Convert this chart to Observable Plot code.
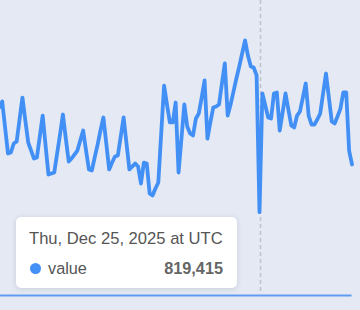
<!DOCTYPE html>
<html>
<head>
<meta charset="utf-8">
<script src="https://cdn.jsdelivr.net/npm/d3@7"></script>
<script src="https://cdn.jsdelivr.net/npm/@observablehq/plot@0.6"></script>
<style>
  html, body { margin: 0; padding: 0; background: #e4e9f4; overflow: hidden; }
  #wrap { position: relative; width: 360px; height: 310px; }
  #tip {
    position: absolute; left: 16px; top: 217px; width: 221px; height: 71px;
    background: #fff; border-radius: 5px;
    box-shadow: 0 1px 5px rgba(60,70,90,0.18);
    font-family: "Liberation Sans", Arial, Helvetica, sans-serif; font-size: 16px; line-height: 16px;
    color: #555;
  }
  #tip .title { position: absolute; left: 13px; top: 14.3px; white-space: nowrap; font-size: 16.6px; }
  #tip .dot { position: absolute; left: 13.5px; top: 45.5px; width: 11px; height: 11px; border-radius: 50%; }
  #tip .name { position: absolute; left: 32px; top: 42.5px; font-size: 16.3px; }
  #tip .val { position: absolute; right: 14px; top: 42.5px; font-weight: bold; color: #666; font-size: 16.3px; }
</style>
</head>
<body>
<div id="wrap"></div>
<script>
// Daily series, first day 2025-09-26
const startDate = [2025, 8, 26];
const values = [
  1850000, 1907000, 1652000, 1396000, 1406000, 1494000, 1514000, 1730000, 1946000, 1720000,
  1504000, 1425000, 1347000, 1357000, 1563000, 1769000, 1475000, 1189000, 1199000, 1209000,
  1396000, 1583000, 1779000, 1543000, 1317000, 1347000, 1386000, 1425000, 1524000, 1622000,
  1425000, 1239000, 1229000, 1357000, 1484000, 1622000, 1750000, 1494000, 1239000, 1307000,
  1366000, 1376000, 1563000, 1750000, 1494000, 1239000, 1268000, 1298000, 1268000, 1101000,
  1307000, 1298000, 1003000, 983000, 1052000, 1111000, 1593000, 2064000, 1878000, 1701000,
  1701000, 1897000, 1209000, 1543000, 1878000, 1661000, 1593000, 1573000, 1740000, 1789000,
  1946000, 2114000, 1543000, 1701000, 1848000, 1858000, 1878000, 2084000, 2281000, 1769000,
  1878000, 2005000, 2133000, 2251000, 2379000, 2507000, 2359000, 2251000, 2241000, 2163000,
  819415, 1986000, 1868000, 1750000, 1740000, 1986000, 1996000, 1622000, 1800000, 1986000,
  1828000, 1671000, 1652000, 1769000, 1809000, 1946000, 2084000, 1769000, 1681000, 1681000,
  1730000, 1789000, 1986000, 2182000, 1946000, 1711000, 1691000, 1760000, 1838000, 1996000,
  1996000, 1425000, 1288000
];
const seriesName = "value";
const highlightDate = [2025, 11, 25];
const highlightLabel = "Thu, Dec 25, 2025 at UTC";
const lineColor = "#4290f5";

const data = values.map((v, i) => ({
  date: new Date(Date.UTC(startDate[0], startDate[1], startDate[2] + i)),
  value: v
}));
const hDate = new Date(Date.UTC(...highlightDate));
const hPoint = data.find(d => +d.date === +hDate);

const DAY = 864e5;
const xDomain = [new Date(+hDate - 89.59 * DAY), new Date(+hDate + 34.94 * DAY)];

const chart = Plot.plot({
  width: 360,
  height: 310,
  margin: 0,
  x: { type: "utc", domain: xDomain, range: [0, 360], axis: null },
  y: { domain: [0, 2900000], range: [295, 0], axis: null },
  style: { background: "#e4e9f4", overflow: "hidden" },
  marks: [
    Plot.ruleX([hPoint], { x: "date", y1: 2900000, y2: 20000, dx: 1, stroke: "#bfc3cc", strokeWidth: 1.5, strokeDasharray: "4,3" }),
    Plot.ruleY([0], { x1: data[0].date, x2: data[data.length - 1].date, stroke: "#5f9bf2", strokeWidth: 2 }),
    Plot.line(data, { x: "date", y: "value", stroke: lineColor, strokeWidth: 3.8 })
  ]
});

const wrap = document.getElementById("wrap");
wrap.appendChild(chart);

const tip = document.createElement("div");
tip.id = "tip";
tip.innerHTML = `<div class="title"></div><div class="dot"></div><div class="name"></div><div class="val"></div>`;
tip.querySelector(".title").textContent = highlightLabel;
tip.querySelector(".dot").style.background = lineColor;
tip.querySelector(".name").textContent = seriesName;
tip.querySelector(".val").textContent = hPoint.value.toLocaleString("en-US");
wrap.appendChild(tip);
</script>
</body>
</html>
